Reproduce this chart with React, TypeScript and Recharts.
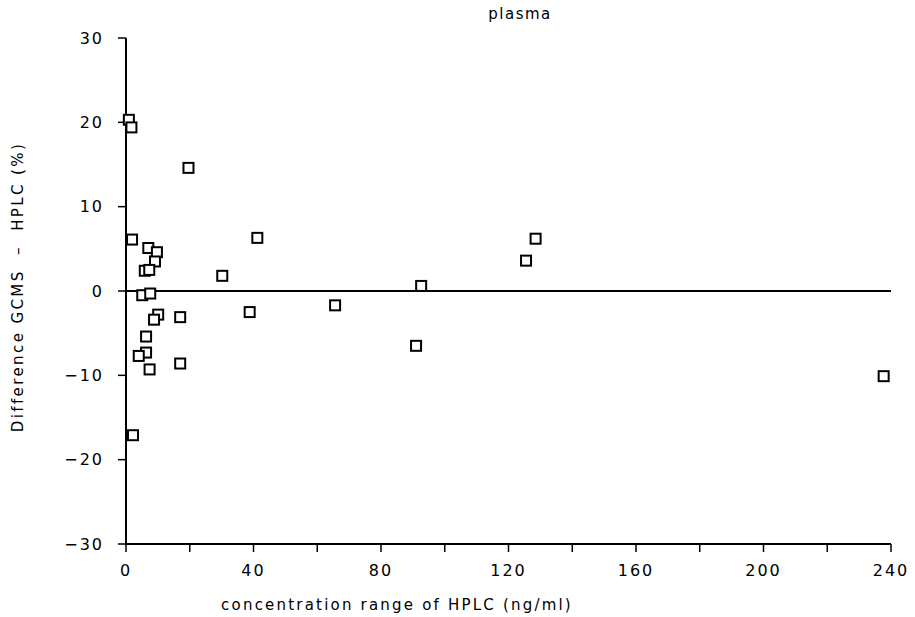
import { ScatterChart, Scatter, XAxis, YAxis, ReferenceLine } from 'recharts';

// concentration (ng/ml) and difference (%)
const concentrations = [
  0.9, 1.7, 19.6, 1.9, 7.0, 9.7, 9.1, 5.9, 7.3, 41.2, 30.2, 5.1, 7.6, 10.1, 8.8,
  17.0, 38.8, 6.3, 6.3, 4.0, 7.4, 17.0, 2.2, 65.6, 92.6, 91.0, 125.5, 128.5, 237.7,
];
const differences = [
  20.3, 19.4, 14.6, 6.1, 5.1, 4.6, 3.5, 2.4, 2.5, 6.3, 1.8, -0.5, -0.3, -2.8, -3.4,
  -3.1, -2.5, -5.4, -7.3, -7.7, -9.3, -8.6, -17.1, -1.7, 0.6, -6.5, 3.6, 6.2, -10.1,
];

const xTicks = [0, 20, 40, 60, 80, 100, 120, 140, 160, 180, 200, 220, 240];
const yTicks = [-30, -20, -10, 0, 10, 20, 30];

const title = 'plasma';
const xTitle = 'concentration range of HPLC (ng/ml)';
const yTitle = 'Difference GCMS  –  HPLC (%)';

const points = concentrations.map((x, i) => ({ x, y: differences[i] }));

const FONT = '"DejaVu Sans", sans-serif';

function SquareMarker(props: any) {
  const { cx, cy } = props;
  return <rect x={cx - 5} y={cy - 5} width={10} height={10} fill="#fff" stroke="#000" strokeWidth={2} />;
}

const tickStyle = { fill: '#000', fontSize: 16, fontFamily: FONT, letterSpacing: 2 };

export default function App() {
  return (
    <div style={{ position: 'absolute', left: 0, top: 0, width: 915, height: 617, background: '#fff' }}>
      <ScatterChart width={915} height={617} margin={{ top: 38, right: 24, bottom: 33, left: 66 }}>
        <XAxis
          type="number"
          dataKey="x"
          domain={[0, 240]}
          ticks={xTicks}
          interval={0}
          tickFormatter={(v: number) => (v % 40 === 0 ? String(v) : '')}
          tick={tickStyle}
          tickSize={8}
          tickMargin={13}
          height={40}
          axisLine={{ stroke: '#000', strokeWidth: 2 }}
          tickLine={{ stroke: '#000', strokeWidth: 1.5 }}
        />
        <YAxis
          type="number"
          dataKey="y"
          domain={[-30, 30]}
          ticks={yTicks}
          interval={0}
          tickFormatter={(v: number) => (v < 0 ? `−${Math.abs(v)}` : String(v))}
          tick={tickStyle}
          tickSize={8}
          tickMargin={14}
          width={60}
          axisLine={{ stroke: '#000', strokeWidth: 2 }}
          tickLine={{ stroke: '#000', strokeWidth: 1.5 }}
        />
        <ReferenceLine y={0} stroke="#000" strokeWidth={2} />
        <Scatter data={points} shape={SquareMarker} isAnimationActive={false} />
      </ScatterChart>
      <div
        style={{
          position: 'absolute', left: 470, top: 5, width: 100, textAlign: 'center',
          fontFamily: FONT, fontSize: 15, letterSpacing: 1.5,
        }}
      >
        {title}
      </div>
      <div
        style={{
          position: 'absolute', left: 147, top: 596, width: 500, textAlign: 'center',
          fontFamily: FONT, fontSize: 15, letterSpacing: 2.2,
        }}
      >
        {xTitle}
      </div>
      <div
        style={{
          position: 'absolute', left: 18, top: 288, width: 0, height: 0,
        }}
      >
        <div
          style={{
            position: 'absolute', left: -250, top: -10, width: 500, textAlign: 'center',
            transform: 'rotate(-90deg)', fontFamily: FONT, fontSize: 15, letterSpacing: 2.4,
            whiteSpace: 'pre',
          }}
        >
          {yTitle}
        </div>
      </div>
    </div>
  );
}
